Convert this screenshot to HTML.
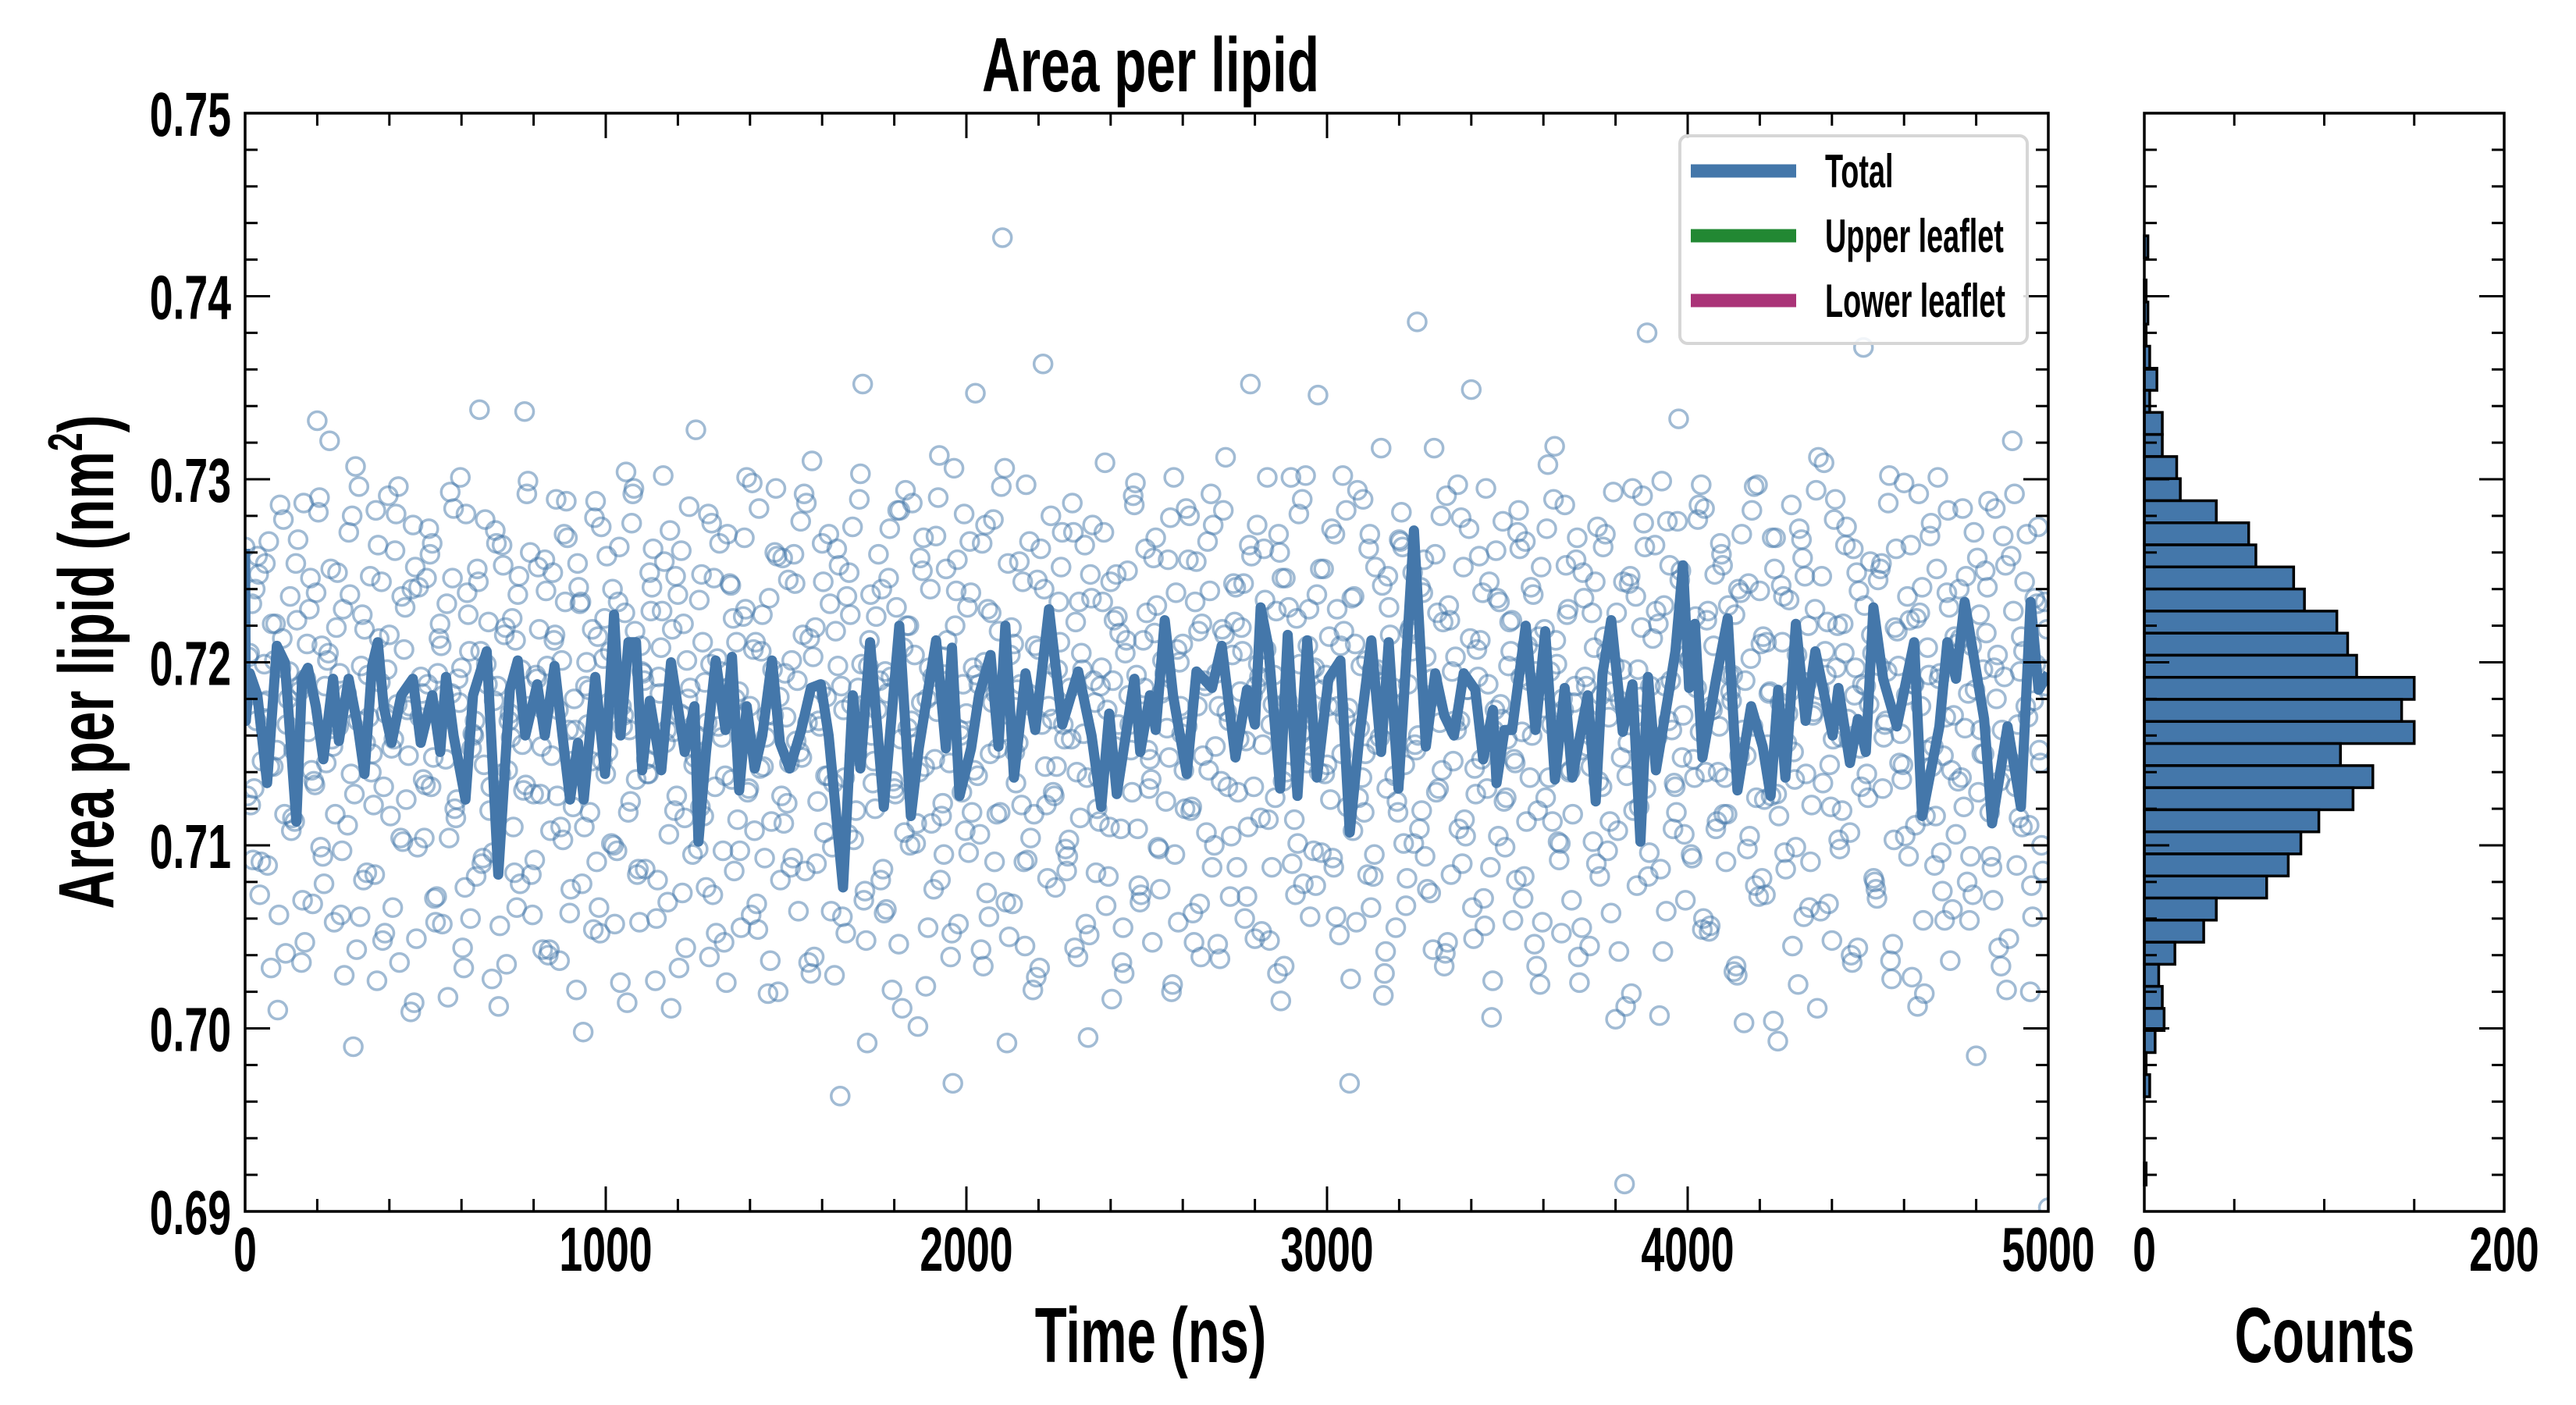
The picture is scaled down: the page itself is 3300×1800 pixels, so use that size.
<!DOCTYPE html>
<html><head><meta charset="utf-8"><style>
html,body{margin:0;padding:0;background:#fff;}
svg{display:block;font-family:"Liberation Sans",sans-serif;font-weight:bold;}
</style></head><body>
<svg id="chart" xmlns="http://www.w3.org/2000/svg" width="3300" height="1800" viewBox="0 0 3300 1800">
<rect width="3300" height="1800" fill="#fff"/>
<g id="main-clip-group"></g>
<g id="hist-group"></g>
<g id="axes-group"></g>
<g id="legend">
  <rect x="2152" y="174" width="445" height="266" rx="10" fill="#fff" fill-opacity="0.85" stroke="#d6d6d6" stroke-width="4"/>
  <line x1="2166" y1="219" x2="2301" y2="219" stroke="#4477aa" stroke-width="17"/>
  <line x1="2166" y1="302" x2="2301" y2="302" stroke="#228833" stroke-width="17"/>
  <line x1="2166" y1="385" x2="2301" y2="385" stroke="#aa3377" stroke-width="17"/>
  <text transform="translate(2338,240) scale(0.63,1)" font-size="60">Total</text>
  <text transform="translate(2338,323) scale(0.63,1)" font-size="60">Upper leaflet</text>
  <text transform="translate(2338,406) scale(0.63,1)" font-size="60">Lower leaflet</text>
</g>
<text text-anchor="middle" transform="translate(1474,117) scale(0.69,1)" font-size="98">Area per lipid</text>
<text text-anchor="middle" transform="translate(1474,1745) scale(0.67,1)" font-size="100">Time (ns)</text>
<text text-anchor="middle" transform="translate(2978,1745) scale(0.67,1)" font-size="100">Counts</text>
<text text-anchor="middle" transform="translate(145,848) rotate(-90) scale(0.69,1)" font-size="100">Area per lipid (nm<tspan font-size="62" dy="-40">2</tspan><tspan dy="40">)</tspan></text>
</svg>
<script>
// ---- data ----
const lineTimes = [0,2,13,34,61,88,110,121,142,158,174,196,217,244,260,287,314,331,352,368,384,406,433,465,487,519,541,557,578,611,632,670,702,734,756,777,810,831,858,880,901,923,939,971,998,1023,1041,1063,1084,1101,1122,1154,1181,1219,1246,1257,1278,1305,1332,1350,1370,1391,1413,1434,1461,1483,1510,1542,1569,1596,1618,1658,1685,1706,1733,1771,1814,1846,1868,1916,1943,1960,1981,2013,2035,2067,2089,2108,2132,2164,2191,2229,2266,2310,2347,2374,2396,2417,2466,2482,2509,2525,2550,2573,2611,2638,2681,2708,2746,2778,2800,2816,2837,2870,2891,2918,2945,2972,3004,3037,3063,3090,3123,3150,3171,3198,3241,3274,3300,3325,3352,3379,3411,3433,3460,3470,3492,3513,3551,3578,3605,3632,3659,3680,3723,3745,3764,3788,3820,3847,3869,3890,3912,3944,3966,3987,4004,4020,4041,4079,4111,4138,4176,4208,4230,4251,4271,4300,4327,4354,4402,4418,4450,4472,4494,4515,4542,4580,4628,4650,4698,4720,4744,4768,4822,4844,4887,4924,4951,4973,5000];
const lineValues = [0.7262,0.7168,0.7194,0.7182,0.7134,0.7209,0.7200,0.7171,0.7113,0.7191,0.7197,0.7176,0.7147,0.7191,0.7157,0.7191,0.7163,0.7139,0.7198,0.7211,0.7176,0.7156,0.7182,0.7191,0.7156,0.7182,0.7151,0.7192,0.7160,0.7125,0.7182,0.7206,0.7084,0.7185,0.7201,0.7160,0.7188,0.7160,0.7198,0.7160,0.7125,0.7156,0.7125,0.7192,0.7139,0.7226,0.7160,0.7211,0.7211,0.7141,0.7179,0.7141,0.7200,0.7151,0.7176,0.7102,0.7151,0.7201,0.7163,0.7203,0.7130,0.7176,0.7142,0.7160,0.7201,0.7156,0.7142,0.7163,0.7186,0.7188,0.7160,0.7077,0.7182,0.7142,0.7211,0.7121,0.7220,0.7116,0.7153,0.7212,0.7153,0.7208,0.7127,0.7153,0.7182,0.7204,0.7154,0.7220,0.7137,0.7194,0.7163,0.7229,0.7166,0.7195,0.7160,0.7121,0.7172,0.7128,0.7191,0.7151,0.7182,0.7163,0.7223,0.7182,0.7139,0.7195,0.7186,0.7209,0.7148,0.7185,0.7166,0.7230,0.7209,0.7131,0.7215,0.7127,0.7212,0.7137,0.7191,0.7201,0.7107,0.7160,0.7212,0.7151,0.7211,0.7131,0.7272,0.7154,0.7194,0.7171,0.7160,0.7194,0.7185,0.7147,0.7174,0.7134,0.7163,0.7163,0.7220,0.7163,0.7217,0.7136,0.7186,0.7137,0.7182,0.7124,0.7194,0.7223,0.7162,0.7188,0.7102,0.7192,0.7141,0.7179,0.7206,0.7253,0.7186,0.7221,0.7148,0.7191,0.7224,0.7130,0.7176,0.7154,0.7127,0.7185,0.7137,0.7221,0.7168,0.7206,0.7160,0.7186,0.7145,0.7169,0.7151,0.7230,0.7191,0.7165,0.7211,0.7116,0.7165,0.7211,0.7191,0.7233,0.7169,0.7112,0.7165,0.7121,0.7233,0.7185,0.7194,0.7105];
// scatter values in units of 1e-4 nm^2; four interleaved sample sets (each every 12.5 ns)
const scatterA = [
7263,7205,7131,7248,7178,7089,7221,7152,7197,7041,7236,7113,7184,7287,7162,7068,7332,7209,7145,7251,
7117,7194,7029,7271,6990,7168,7226,7085,7140,7283,7189,7052,7215,7158,7296,7102,7174,7240,7049,7192,
7133,7259,7071,7213,7182,7017,7246,7125,7197,7281,7060,7168,7338,7144,7222,7096,7187,7264,7035,7159,
7212,7079,7337,7176,7128,7252,7043,7198,7149,7289,7110,7233,7063,7180,7241,6998,7166,7218,7091,7274,
7139,7206,7057,7263,7171,7118,7292,7084,7195,7147,7228,7026,7183,7255,7106,7162,7237,7074,7201,7154,
7327,7121,7189,7039,7246,7165,7097,7270,7136,7211,7055,7229,7176,7108,7284,7143,7019,7196,7258,7127,
7170,7088,7243,7151,7292,7036,7203,7124,7265,7181,7064,7217,6963,7137,7249,7103,7186,7352,6992,7160,
7225,7081,7195,7273,7131,7046,7208,7164,7287,7112,7178,7023,7240,7147,7313,7095,7190,6970,7256,7129,
7172,7238,7347,7106,7200,7061,7278,7153,7432,6992,7219,7134,7188,7045,7266,7117,7207,7363,7082,7169,
7143,7252,7098,7186,7044,7233,7161,6995,7275,7120,7197,7067,7244,7154,7216,7030,7182,7291,7109,7173,
7227,7136,7268,7076,7194,7148,7301,7058,7210,7165,7121,7255,7039,7187,7239,7100,7176,7283,7132,7204,
7088,7219,7157,7352,7049,7192,7262,7114,7177,7030,7246,7140,7301,7073,7199,7163,7229,7097,7346,7185,
7144,7273,7061,7209,7170,6970,7236,7126,7289,7084,7196,7155,7317,7042,7215,7138,7267,7101,7188,7249,
7386,7119,7203,7074,7259,7167,7034,7231,7146,7297,7090,7185,7349,7128,7212,7056,7244,7163,7105,7277,
7158,7223,7081,7192,7266,7137,7046,7214,7175,7308,7113,7199,7052,7253,7141,7187,7025,7235,7169,7102,
7274,7132,7205,7063,7005,7179,6915,7243,7119,7196,7291,7380,7160,7228,7087,7187,7253,7134,7333,7171,
7217,7093,7186,7297,7140,7056,7248,7165,7117,7231,7193,7029,7270,7149,7202,7078,7239,7125,7183,7004,
6993,7211,7156,7286,7099,7190,7247,7066,7173,7312,7134,7222,7048,7197,7159,7264,7107,7182,7239,7372,
7126,7205,7071,7254,7168,7037,7219,7145,7298,7094,7188,7012,7241,7152,7276,7116,7194,7059,7230,7171,
7135,7284,7080,7209,6985,7163,7250,7118,7197,7044,7269,7148,7321,7089,7214,7176,7020,7235,7152,7196,
6902];
const scatterB = [
7181,7122,7240,7073,7199,7266,7143,7010,7213,7166,7108,7254,7187,7047,7229,7135,7282,7094,7201,7158,
7219,7062,7175,7237,7128,7296,7081,7193,7150,7026,7244,7172,7116,7261,7036,7207,7149,7275,7099,7183,
7246,7132,7058,7221,7169,7104,7284,7191,7044,7238,7153,7083,7206,7278,7119,7179,7012,7253,7141,7224,
7066,7196,7133,7260,7092,7218,7174,7040,7249,7127,7201,7288,7076,7163,7232,7110,7185,7054,7214,7146,
7258,7101,7177,7025,7227,7163,7295,7087,7194,7139,7241,7060,7208,7156,7272,7119,7033,7221,7180,7095,
7160,7248,7077,7199,7132,7265,7047,7186,7224,7114,7170,7301,7062,7211,7142,7093,7235,7171,7020,7257,
7123,7201,7157,7277,7086,7213,7039,7168,7244,7138,7099,7262,7187,7052,7226,7149,7289,7070,7198,7134,
7174,7240,7065,7192,7128,7283,7107,7220,7155,7001,7250,7180,7112,7269,7081,7203,7145,7306,7057,7188,
7230,7118,7193,7043,7275,7150,7091,7217,7162,7254,7068,7185,7122,7297,7104,7209,7033,7240,7176,7129,
7196,7271,7086,7158,7222,7115,7264,7051,7190,7137,7233,7174,7016,7248,7109,7205,7166,7286,7078,7212,
7152,7047,7231,7183,7124,7279,7095,7200,7141,7256,7063,7176,7221,7107,7292,7154,7038,7215,7168,7243,
7129,7206,7072,7258,7187,7115,7234,7048,7193,7270,7135,7179,7090,7224,7161,7302,7061,7197,7140,7251,
7176,7093,7229,7150,7283,7027,7210,7164,7118,7262,7083,7196,7242,7131,7178,7055,7266,7144,7217,7101,
7160,7238,7076,7191,7129,7280,7041,7223,7168,7109,7252,7185,7066,7207,7147,7295,7088,7174,7233,7124,
7198,7059,7271,7162,7113,7241,7195,7024,7218,7137,7289,7102,7180,7226,7070,7256,7152,7192,7045,7208,
7135,7263,7097,7184,7227,7148,7012,7247,7170,7121,7276,7083,7213,7159,7299,7064,7190,7132,7245,7106,
7201,7147,7278,7054,7223,7176,7109,7265,7137,7193,7031,7240,7163,7098,7283,7126,7210,7073,7184,7251,
7116,7236,7172,7045,7204,7267,7139,7091,7229,7185,7309,7068,7158,7220,7119,7274,7040,7197,7153,7231,
7177,7082,7245,7131,7195,7027,7262,7161,7105,7223,7188,7292,7059,7208,7143,7251,7096,7170,7037,7214,
7240,7121,7183,7073,7257,7150,7216,7094,7284,7135,7192,7049,7228,7166,7110,7270,7078,7199,7145,7233];
const scatterC = [
7127,7232,7168,7091,7254,7143,7201,7062,7278,7180,7115,7223,7036,7191,7246,7133,7290,7079,7205,7154,
7249,7097,7183,7139,7307,7061,7218,7170,7122,7264,7048,7196,7153,7281,7104,7230,7176,7014,7241,7136,
7188,7265,7072,7209,7147,7293,7120,7178,7033,7226,7161,7251,7090,7199,7132,7272,7056,7215,7168,7110,
7237,7155,7292,7084,7193,7128,7256,7043,7212,7174,7103,7268,7146,7021,7233,7187,7118,7279,7066,7202,
7151,7240,7097,7176,7304,7124,7217,7058,7190,7139,7262,7081,7228,7163,7011,7247,7172,7115,7285,7144,
7098,7211,7167,7276,7052,7195,7138,7243,7086,7184,7225,7129,7298,7068,7206,7159,7037,7260,7181,7112,
7245,7093,7190,7148,7287,7030,7219,7165,7107,7270,7134,7198,7061,7236,7177,7119,7303,7075,7212,7146,
7259,7087,7183,7021,7230,7158,7294,7100,7204,7140,7268,7055,7192,7173,7116,7251,7039,7220,7163,7281,
7096,7197,7138,7265,7074,7227,7183,7118,7306,7050,7210,7156,7244,7092,7176,7028,7262,7143,7199,7127,
7233,7166,7094,7287,7140,7205,7057,7248,7178,7113,7271,7083,7190,7225,7036,7212,7152,7298,7069,7186,
7131,7257,7099,7201,7164,7020,7238,7176,7120,7280,7047,7217,7149,7266,7088,7194,7135,7312,7072,7222,
7158,7243,7110,7182,7275,7053,7207,7166,7126,7260,7034,7230,7172,7101,7289,7145,7196,7078,7251,7139,
7214,7088,7176,7302,7121,7235,7058,7198,7150,7270,7095,7189,7018,7247,7166,7124,7282,7067,7219,7155,
7109,7256,7180,7043,7227,7141,7291,7084,7203,7168,7114,7273,7049,7192,7238,7131,7006,7261,7177,7099,
7222,7147,7283,7071,7209,7160,7034,7252,7126,7195,7318,7092,7174,7229,7117,7268,7055,7187,7143,7244,
7083,7214,7170,7293,7108,7196,7138,7019,7236,7181,7263,7096,7155,7221,7042,7277,7163,7118,7250,7070,
7202,7137,7286,7060,7228,7174,7113,7259,7091,7184,7226,7149,7003,7243,7165,7297,7082,7211,7127,7268,
7178,7096,7234,7151,7024,7257,7189,7122,7294,7064,7206,7144,7278,7103,7221,7169,7036,7249,7132,7187,
7255,7080,7198,7159,7287,7046,7217,7136,7182,7264,7111,7227,7019,7193,7154,7301,7075,7238,7141,7106,
7213,7164,7059,7271,7129,7196,7241,7088,7180,7034,7253,7146,7292,7115,7206,7170,7061,7232,7100,7187];
const scatterD = [
7203,7092,7258,7146,7179,7033,7221,7286,7117,7195,7152,7267,7070,7210,7141,7238,7099,7187,7321,7058,
7165,7229,7111,7280,7043,7198,7156,7247,7084,7213,7132,7291,7066,7177,7236,7125,7009,7252,7170,7104,
7273,7148,7194,7057,7232,7183,7115,7301,7077,7206,7160,7244,7093,7188,7027,7265,7139,7219,7172,7085,
7247,7130,7299,7062,7191,7154,7239,7108,7215,7037,7270,7163,7121,7254,7079,7200,7146,7288,7052,7224,
7178,7100,7233,7165,7014,7276,7136,7209,7087,7249,7155,7192,7302,7069,7218,7127,7261,7044,7186,7148,
7234,7116,7281,7073,7202,7159,7025,7242,7180,7097,7268,7131,7207,7054,7226,7171,7113,7295,7081,7194,
7145,7259,7064,7215,7167,7310,7090,7185,7138,7232,7029,7253,7174,7106,7274,7150,7199,7048,7237,7120,
7190,7063,7246,7135,7283,7011,7220,7168,7101,7257,7143,7197,7076,7290,7123,7212,7052,7239,7160,7108,
7266,7141,7188,7034,7229,7178,7117,7296,7069,7204,7151,7255,7091,7183,7021,7245,7166,7122,7280,7077,
7211,7158,7103,7271,7039,7196,7137,7235,7085,7187,7309,7110,7223,7166,7055,7250,7129,7193,7073,7262,
7147,7216,7098,7185,7256,7024,7207,7161,7284,7119,7233,7068,7190,7141,7275,7046,7218,7173,7105,7241,
7184,7060,7264,7132,7199,7155,7301,7088,7228,7015,7246,7170,7114,7281,7079,7209,7149,7237,7096,7193,
7125,7270,7051,7217,7175,7108,7294,7137,7201,7066,7252,7159,7030,7230,7186,7118,7263,7082,7206,7152,
7241,7094,7180,7317,7131,7222,7047,7195,7163,7279,7105,7213,7142,7258,7071,7188,7026,7235,7169,7126,
7206,7145,7262,7083,7190,7237,7119,7058,7273,7166,7212,7101,7286,7140,7178,7039,7249,7154,7227,7090,
7182,7270,7113,7198,7042,7244,7156,7295,7078,7219,7131,7187,7264,7007,7231,7168,7109,7277,7148,7204,
7095,7225,7162,7284,7053,7209,7140,7253,7117,7179,7034,7238,7190,7105,7296,7072,7214,7155,7268,7128,
7242,7087,7184,7136,7273,7061,7220,7171,7011,7247,7193,7121,7289,7098,7205,7158,7262,7044,7188,7139,
7215,7076,7251,7166,7302,7103,7198,7144,7236,7028,7224,7176,7116,7269,7089,7191,7149,7283,7065,7210,
7137,7247,7094,7185,7226,7150,7288,7070,7204,7163,7021,7258,7132,7195,7244,7111,7179,7274,7086,7218];
const scatterSets = [scatterA, scatterB, scatterC, scatterD];
const scatterStep = 12.5;
const scatterUnit = 0.0001;
const histCounts = [2,0,1,2,1,3,7,3,10,10,18,20,40,58,62,83,89,107,113,118,150,143,150,109,127,116,97,87,80,68,40,33,17,8,10,11,6,1,3,0,0,0,1];
const histTop = 0.7433;
const histBinWidth = 0.001206;
const xTickLabels = ["0","1000","2000","3000","4000","5000"];
const yTickLabels = ["0.69","0.70","0.71","0.72","0.73","0.74","0.75"];
const histTickLabels = ["0","200"];

// ---- geometry ----
const NS="http://www.w3.org/2000/svg";
const X0=314,X1=2624,Y0=145,Y1=1552,H0=2747,H1=3208;
const xS=t=>X0+(t-0)/5000*(X1-X0);
const yS=v=>Y1-(v-0.69)/0.06*(Y1-Y0);
const cS=c=>H0+c/200*(H1-H0);
function mk(tag,attrs,parent){const e=document.createElementNS(NS,tag);for(const k in attrs)e.setAttribute(k,attrs[k]);parent.appendChild(e);return e;}
const plot=document.getElementById('main-clip-group');
const hist=document.getElementById('hist-group');
const axes=document.getElementById('axes-group');
const svg=document.getElementById('chart');
const defs=mk('defs',{},svg);
const cp=mk('clipPath',{id:'mc'},defs);
mk('rect',{x:X0,y:Y0,width:X1-X0,height:Y1-Y0},cp);
plot.setAttribute('clip-path','url(#mc)');

// scatter
const sg=mk('g',{fill:'none',stroke:'#4477aa','stroke-width':3.5,'stroke-opacity':0.5},plot);


scatterSets.forEach((set,k)=>{
  set.forEach((v,i)=>{
    const t=i*scatterStep+k*scatterStep/scatterSets.length;
    if(t>5000)return;
    const c=mk('circle',{cx:xS(t),cy:yS(v*scatterUnit),r:11.5},sg);
    
    
  });
});
// line
const pl=mk('polyline',{points:lineTimes.map((t,i)=>xS(t)+','+yS(lineValues[i])).join(' '),fill:'none',stroke:'#4477aa','stroke-width':13,'stroke-linejoin':'round'},plot);



// histogram
histCounts.forEach((c,i)=>{
  const top=histTop-i*histBinWidth, bot=top-histBinWidth;
  const r=mk('rect',{x:H0,y:yS(top),width:cS(c)-H0,height:yS(bot)-yS(top),fill:'#4477aa',stroke:'#000','stroke-width':3.5},hist);
  
  
});

// axes frames
const f1=mk('rect',{x:X0,y:Y0,width:X1-X0,height:Y1-Y0,fill:'none',stroke:'#000','stroke-width':3.5},axes);


const f2=mk('rect',{x:H0,y:Y0,width:H1-H0,height:Y1-Y0,fill:'none',stroke:'#000','stroke-width':3.5},axes);


const tk=(x1,y1,x2,y2)=>mk('line',{x1,y1,x2,y2,stroke:'#000','stroke-width':3},axes);
for(let t=0;t<=5000;t+=200){const maj=t%1000===0,L=maj?32:16,x=xS(t);tk(x,Y1,x,Y1-L);tk(x,Y0,x,Y0+L);}
for(let k=0;k<=30;k++){const v=0.69+k*0.002,maj=k%5===0,L=maj?32:16,y=yS(v);
  tk(X0,y,X0+L,y);tk(X1,y,X1-L,y);tk(H0,y,H0+L,y);tk(H1,y,H1-L,y);}
for(let c=50;c<200;c+=50){const x=cS(c);tk(x,Y1,x,Y1-16);tk(x,Y0,x,Y0+16);}
xTickLabels.forEach(s=>{const e=mk('text',{transform:`translate(${xS(+s)},1628) scale(0.67,1)`,'text-anchor':'middle','font-size':80},axes);e.textContent=s;
  
  });
yTickLabels.forEach(s=>{const e=mk('text',{transform:`translate(296,${yS(+s)+29}) scale(0.67,1)`,'text-anchor':'end','font-size':80},axes);e.textContent=s;
  
  });
histTickLabels.forEach(s=>{const e=mk('text',{transform:`translate(${cS(+s)},1628) scale(0.67,1)`,'text-anchor':'middle','font-size':80},axes);e.textContent=s;
  
  });
</script>
</body></html>
